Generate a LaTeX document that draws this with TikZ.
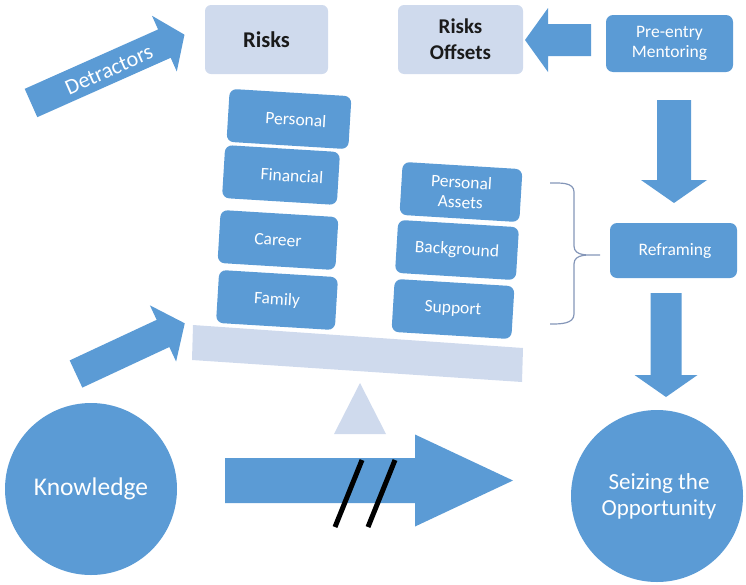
\documentclass[tikz,border=0pt]{standalone}
\usepackage{fontspec}
\setmainfont{Carlito}
\definecolor{mblue}{HTML}{5B9BD5}
\definecolor{lblue}{HTML}{CFDAED}
\definecolor{bracec}{HTML}{8496B8}
\definecolor{dtext}{HTML}{1A1A1A}
\tikzset{
  pics/barrow/.style args={#1/#2/#3/#4}{code={
    \fill[mblue] (0,-#2/2) -- (#1-#4,-#2/2) -- (#1-#4,-#3/2) -- (#1,0)
      -- (#1-#4,#3/2) -- (#1-#4,#2/2) -- (0,#2/2) -- cycle;
  }},
  lbox/.style={fill=lblue, rounded corners=6pt, inner sep=0pt, align=center,
    text=dtext, font=\bfseries\fontsize{21}{26}\selectfont},
  mbox/.style={fill=mblue, rounded corners=7pt, inner sep=0pt, align=center,
    text=white, font=\fontsize{17.5}{20}\selectfont},
  stackbox/.style={mbox, rotate=-3.5, minimum height=53pt},
  bigcircle/.style={circle, fill=mblue, minimum size=172pt, inner sep=0pt,
    align=center, text=white, font=\fontsize{23}{26}\selectfont},
}
\begin{document}
\begin{tikzpicture}[x=1pt,y=-1pt]
\useasboundingbox (0,0) rectangle (746,584);

% top boxes
\node[lbox, minimum width=123pt, minimum height=69pt, font=\bfseries\fontsize{22.5}{26}\selectfont] (risks) at (266.5,39.5) {Risks};
\node[lbox, minimum width=125pt, minimum height=69pt] (offsets) at (460.5,39.5) {Risks\\Offsets};
\node[mbox, minimum width=127pt, minimum height=57pt] (mentor) at (669.5,43.5) {Pre-entry\\Mentoring};
\node[mbox, minimum width=127pt, minimum height=55pt] (reframe) at (673.5,250.5) {\hspace*{3pt}Reframing};

% beam and fulcrum
\fill[lblue] (193,325) -- (523,348) -- (522,382) -- (192,360) -- cycle;
\fill[lblue] (360,383) -- (386,434) -- (334,434) -- cycle;

% left stack
\node[stackbox, minimum width=122pt] (personal) at (289,119) {\hspace*{14pt}Personal};
\node[stackbox, minimum width=115pt] (financial) at (281,175) {\hspace*{22pt}Financial};
\node[stackbox, minimum width=118pt] (career) at (278,240) {Career};
\node[stackbox, minimum width=119pt] (family) at (277,300) {Family};

% right stack
\node[stackbox, minimum width=120pt] (assets) at (461,192) {Personal\\Assets};
\node[stackbox, minimum width=121pt] (background) at (457,250) {Background};
\node[stackbox, minimum width=120pt] (support) at (453,309) {Support};

% brace
\draw[bracec, line width=1.2pt] (550,183) to[out=0,in=90] (574,192) -- (574,246)
  to[out=-90,in=180] (600,255) to[out=180,in=90] (574,264) -- (574,314)
  to[out=-90,in=0] (550,324);

% circles
\node[bigcircle, font=\fontsize{25.5}{28}\selectfont] (knowledge) at (91,489) {Knowledge};
\node[bigcircle] (seize) at (657,496) {\hspace*{4pt}Seizing the\\\hspace*{4pt}Opportunity};

% block arrows
\pic[rotate=24] at (31,103) {barrow=168/31/61/22};
\node[rotate=24, text=white, font=\fontsize{22}{26}\selectfont] (detr) at (109,70) {Detractors};
\pic[rotate=25] at (76,374) {barrow=120/30/62/24};
\pic[rotate=180] at (591,40) {barrow=66/32/64/23};
\pic[rotate=-90] at (674,100) {barrow=103/34/66/23};
\pic[rotate=-90] at (666,293) {barrow=104/31/63/22};
\pic at (225,480.5) {barrow=288/45/92/98};

% slashes
\draw[black, line width=5pt] (335,527) -- (362,460);
\draw[black, line width=5pt] (368,527) -- (395,460);
\end{tikzpicture}
\end{document}
